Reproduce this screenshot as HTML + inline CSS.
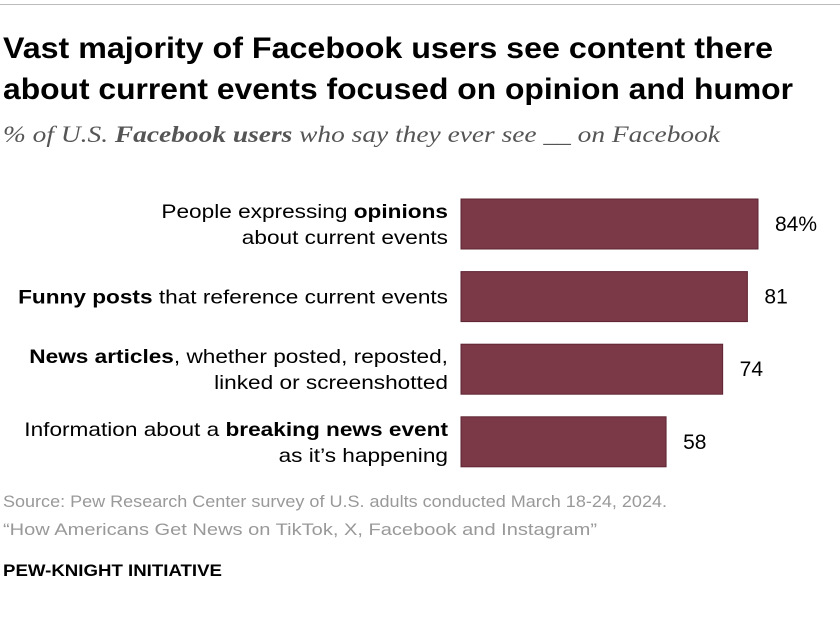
<!DOCTYPE html>
<html><head><meta charset="utf-8"><style>
body{margin:0;background:#fff;width:840px;height:616px;overflow:hidden;font-family:"Liberation Sans",sans-serif;}
svg text{font-family:"Liberation Sans",sans-serif;}
</style></head><body>
<svg width="840" height="616">
<line x1="0" y1="4.5" x2="840" y2="4.5" stroke="#bbb" stroke-width="1"/>
<text x="3" y="58" font-size="30" font-weight="bold" fill="#000" textLength="770" lengthAdjust="spacingAndGlyphs">Vast majority of Facebook users see content there</text>
<text x="3" y="99" font-size="30" font-weight="bold" fill="#000" textLength="790" lengthAdjust="spacingAndGlyphs">about current events focused on opinion and humor</text>
<text x="3" y="142" font-size="23" font-style="italic" fill="#555" textLength="717" lengthAdjust="spacingAndGlyphs" style="font-family:'Liberation Serif',serif">% of U.S. <tspan font-weight="bold">Facebook users</tspan> who say they ever see __ on Facebook</text>
<g id="bars"></g>
<text x="3" y="507" font-size="17" fill="#999" textLength="664" lengthAdjust="spacingAndGlyphs">Source: Pew Research Center survey of U.S. adults conducted March 18-24, 2024.</text>
<text x="3" y="535" font-size="17" fill="#999" textLength="594" lengthAdjust="spacingAndGlyphs">“How Americans Get News on TikTok, X, Facebook and Instagram”</text>
<text x="3" y="576" font-size="17" font-weight="bold" fill="#000" textLength="219" lengthAdjust="spacingAndGlyphs">PEW-KNIGHT INITIATIVE</text>
</svg>
<script>
const categories=[
 [["People expressing ",["opinions",1]],["about current events"]],
 [[["Funny posts",1]," that reference current events"]],
 [[["News articles",1],", whether posted, reposted,"],["linked or screenshotted"]],
 [["Information about a ",["breaking news event",1]],["as it’s happening"]]
];
const values=[84,81,74,58];
const valueLabels=["84%","81","74","58"];
const NS="http://www.w3.org/2000/svg";
const g=document.getElementById('bars');
const x0=461, scale=297/84;
const xPos=v=>x0+v*scale;
const yPos=i=>199+i*72.6;
const bh=50;
values.forEach((v,i)=>{
 const y=yPos(i);
 const r=document.createElementNS(NS,'rect');
 r.setAttribute('x',x0);r.setAttribute('y',y);r.setAttribute('width',xPos(v)-x0);r.setAttribute('height',bh);
 r.setAttribute('fill','#7b3846');r.setAttribute('stroke','#5e2533');r.setAttribute('stroke-width','1');
 
 
 g.appendChild(r);
 const t=document.createElementNS(NS,'text');
 t.setAttribute('x',xPos(v)+17);t.setAttribute('y',y+bh/2+7);t.setAttribute('font-size','21');t.setAttribute('fill','#000');
 t.textContent=valueLabels[i];
 
 
 g.appendChild(t);
 const lines=categories[i];
 lines.forEach((ln,j)=>{
  const lt=document.createElementNS(NS,'text');
  const cy=y+bh/2+7+(j-(lines.length-1)/2)*26;
  lt.setAttribute('x',448);lt.setAttribute('y',cy);lt.setAttribute('text-anchor','end');lt.setAttribute('font-size','19.5');lt.setAttribute('fill','#000');
  ln.forEach(p=>{
   const ts=document.createElementNS(NS,'tspan');
   if(Array.isArray(p)){ts.textContent=p[0];ts.setAttribute('font-weight','bold');}else ts.textContent=p;
   lt.appendChild(ts);
  });
  
  
  g.appendChild(lt);
  const w=lt.getComputedTextLength();
  lt.setAttribute('textLength',(w*1.16).toFixed(1));
  lt.setAttribute('lengthAdjust','spacingAndGlyphs');
 });
});
</script>
</body></html>
